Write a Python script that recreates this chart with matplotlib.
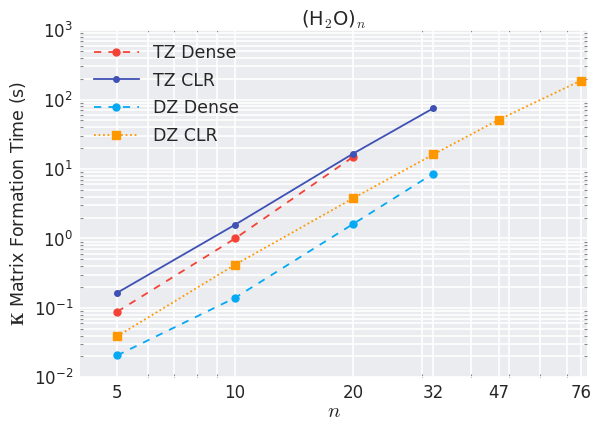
import matplotlib
matplotlib.use("Agg")
import matplotlib.pyplot as plt
from matplotlib.ticker import FixedLocator, FixedFormatter, LogLocator, NullFormatter

plt.rcParams['mathtext.fontset'] = 'cm'
plt.rcParams['font.family'] = 'DejaVu Sans'

# dati
n_tz = [5, 10, 20]
tz_dense = [0.088, 1.0, 15.0]
n_tz_clr = [5, 10, 20, 32]
tz_clr = [0.165, 1.58, 16.7, 75.0]
n_dz = [5, 10, 20, 32]
dz_dense = [0.0207, 0.14, 1.62, 8.6]
n_dz_clr = [5, 10, 20, 32, 47, 76]
dz_clr = [0.039, 0.42, 3.8, 16.2, 51.4, 187.0]
xticks = [5, 10, 20, 32, 47, 76]

fig = plt.figure(figsize=(5.92, 4.24), dpi=100)
ax = fig.add_axes([0.135, 0.11, 0.857, 0.819])
ax.set_facecolor('#EAECEF')
for s in ax.spines.values():
    s.set_visible(False)

ax.plot(n_tz, tz_dense, color='#F44336', linestyle=(0, (4, 4)), lw=1.3,
        marker='o', markersize=5, label='TZ Dense')
ax.plot(n_tz_clr, tz_clr, color='#3F51B5', linestyle='-', lw=1.3,
        marker='o', markersize=4, label='TZ CLR')
ax.plot(n_dz, dz_dense, color='#03A9F4', linestyle=(0, (4, 4)), lw=1.3,
        marker='o', markersize=5, label='DZ Dense')
ax.plot(n_dz_clr, dz_clr, color='#FF9800', linestyle=(0, (1, 1.5)), lw=1.3,
        marker='s', markersize=5.5, label='DZ CLR')

ax.set_xscale('log')
ax.set_yscale('log')
ax.set_xlim(4.02, 79)
ax.set_ylim(1e-2, 1e3)

ax.xaxis.set_major_locator(FixedLocator(xticks))
ax.xaxis.set_major_formatter(FixedFormatter([str(t) for t in xticks]))
ax.xaxis.set_minor_locator(LogLocator(base=10, subs=range(2, 10)))
ax.xaxis.set_minor_formatter(NullFormatter())
ax.yaxis.set_minor_locator(LogLocator(base=10, subs=range(2, 10), numticks=20))
ax.yaxis.set_minor_formatter(NullFormatter())

ax.grid(True, which='both', color='white', lw=1.2)
ax.set_axisbelow(True)
ax.tick_params(which='major', length=0, labelsize=12, colors='#262626', pad=5)
ax.tick_params(which='minor', length=2, width=0.8, color='#888888',
               direction='in', right=True, top=True)

ax.set_xlabel('$n$', fontsize=15, color='#262626', labelpad=-1)
ax.set_ylabel(r'$\mathbf{K}$ Matrix Formation Time (s)', fontsize=12.5, color='#262626')
ax.set_title('(H$_2$O)$_n$', fontsize=14, color='#262626', pad=3)

leg = ax.legend(loc='upper left', frameon=False, fontsize=12.5, handlelength=2.6,
                borderaxespad=0.4, labelspacing=0.55)
for t in leg.get_texts():
    t.set_color('#262626')

fig.savefig('out.png', dpi=100)
